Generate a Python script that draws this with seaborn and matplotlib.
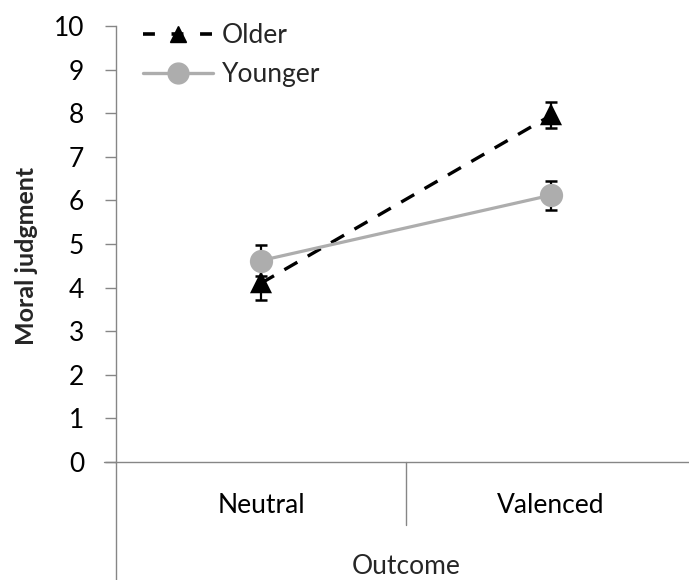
import matplotlib
matplotlib.use("Agg")
import matplotlib.pyplot as plt
from matplotlib.lines import Line2D
import seaborn as sns
import pandas as pd

outcomes = ["Neutral", "Valenced"]
older_means = [4.10, 7.95]
older_err = [0.38, 0.30]
younger_means = [4.62, 6.12]
younger_err = [0.36, 0.33]

sns.set_theme(style="white")
plt.rcParams["font.family"] = ["Lato", "DejaVu Sans"]

df = pd.DataFrame({
    "Outcome": outcomes * 2,
    "Moral judgment": older_means + younger_means,
    "Group": ["Older"] * 2 + ["Younger"] * 2,
})

fig = plt.figure(figsize=(6.89, 5.80), dpi=100)
ax = fig.add_axes([116 / 689, 118 / 580, 580 / 689, 436 / 580])

black = "#000000"
gray = "#ADADAD"
axis_gray = "#868686"

# Error bars first, then the group means on top
ax.errorbar([0, 1], older_means, yerr=older_err, fmt="none", ecolor=black,
            elinewidth=1.6, capsize=4, capthick=1.8, zorder=2)
ax.errorbar([0, 1], younger_means, yerr=younger_err, fmt="none", ecolor=black,
            elinewidth=1.6, capsize=4, capthick=1.8, zorder=4)

sns.pointplot(data=df[df.Group == "Older"], x="Outcome", y="Moral judgment",
              order=outcomes, color=black, markers="^", linestyles="--",
              errorbar=None, ax=ax, zorder=3,
              markersize=13, linewidth=2.4)
sns.pointplot(data=df[df.Group == "Younger"], x="Outcome", y="Moral judgment",
              order=outcomes, color=gray, markers="o", linestyles="-",
              errorbar=None, ax=ax, zorder=5,
              markersize=15, linewidth=2.3)
for ln in ax.lines:
    if ln.get_linestyle() == "--":
        ln.set_dashes((4.5, 3.6))

ax.set_xlim(-0.5, 1.5)
ax.set_ylim(0, 10)
ax.set_yticks(range(0, 11))
ax.tick_params(axis="y", which="both", left=True, length=8, width=1,
               color=axis_gray, labelsize=19, pad=15, labelcolor="black")
ax.tick_params(axis="x", bottom=False, labelsize=19, pad=16, labelcolor="black")
ax.set_xlabel("")
ax.set_ylabel("Moral judgment", fontsize=18, fontweight="bold")
ax.yaxis.set_label_coords(-0.134, 0.472)

for side in ["top", "right"]:
    ax.spines[side].set_visible(False)
for side in ["left", "bottom"]:
    ax.spines[side].set_color(axis_gray)
    ax.spines[side].set_linewidth(1.0)

# Multi-level category axis: divider lines and the outer "Outcome" row
trans = ax.get_xaxis_transform()
ax.add_line(Line2D([-0.5, -0.5], [0, -0.27], transform=trans, color=axis_gray,
                   lw=1.0, clip_on=False))
ax.add_line(Line2D([0.5, 0.5], [0, -0.145], transform=trans, color=axis_gray,
                   lw=1.0, clip_on=False))
ax.add_line(Line2D([-0.54, -0.5], [0, 0], transform=trans, color=axis_gray,
                   lw=1.0, clip_on=False))
ax.text(0.5, -0.239, "Outcome", transform=trans, ha="center", va="center",
        fontsize=19)

handles = [
    Line2D([], [], color=black, ls=(0, (3.3, 4.6)), lw=2.6, marker="^",
           markersize=12),
    Line2D([], [], color=gray, ls="-", lw=2.4, marker="o", markersize=15),
]
ax.legend(handles, ["Older", "Younger"], loc="upper left",
          bbox_to_anchor=(0.047, 1.007), frameon=False, fontsize=19,
          borderaxespad=0, borderpad=0,
          handlelength=2.63, handletextpad=0.34, labelspacing=0.55)

fig.savefig("out.png", dpi=100)
